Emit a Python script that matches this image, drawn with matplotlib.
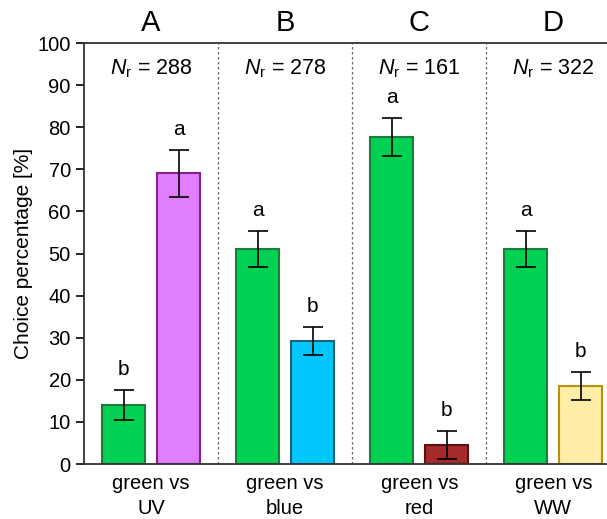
import numpy as np
import matplotlib
matplotlib.use("Agg")
import matplotlib.pyplot as plt

plt.rcParams['font.family'] = ['Liberation Sans', 'DejaVu Sans']
plt.rcParams['mathtext.fontset'] = 'custom'
plt.rcParams['mathtext.rm'] = 'Liberation Sans'
plt.rcParams['mathtext.it'] = 'Liberation Sans:italic'

panels = ['A', 'B', 'C', 'D']
groups = ['green vs\nUV', 'green vs\nblue', 'green vs\nred', 'green vs\nWW']
n_r = [288, 278, 161, 322]
green_vals = [14.0, 51.0, 77.7, 51.0]
green_err = [3.5, 4.3, 4.6, 4.3]
other_vals = [69.1, 29.3, 4.6, 18.6]
other_err = [5.6, 3.3, 3.3, 3.3]
green_sig = ['b', 'a', 'a', 'a']
other_sig = ['a', 'b', 'b', 'b']

green_face, green_edge = '#00D152', '#1F7A40'
other_face = ['#E07EFF', '#00C8FF', '#A52A2A', '#FFEDA8']
other_edge = ['#8A1E8A', '#1F5F78', '#5C1010', '#B8920A']

fig = plt.figure(figsize=(6.07, 5.19), dpi=100)
ax = fig.add_axes([84/607, 55/519, 1 - 84/607, 421/519])

x = np.arange(len(groups))
w = 0.32
off = 0.205
ax.bar(x - off, green_vals, w, color=green_face, edgecolor=green_edge, linewidth=1.5, zorder=2)
ax.bar(x + off, other_vals, w, color=other_face, edgecolor=other_edge, linewidth=1.5, zorder=2)
ax.errorbar(x - off, green_vals, yerr=green_err, fmt='none', ecolor='black', elinewidth=1.2, capsize=7, capthick=1.2, zorder=3)
ax.errorbar(x + off, other_vals, yerr=other_err, fmt='none', ecolor='black', elinewidth=1.2, capsize=7, capthick=1.2, zorder=3)

for i in range(len(groups)):
    ax.text(x[i] - off, green_vals[i] + green_err[i] + 2.6, green_sig[i], ha='center', va='bottom', fontsize=15)
    ax.text(x[i] + off, other_vals[i] + other_err[i] + 2.6, other_sig[i], ha='center', va='bottom', fontsize=15)
    ax.text(x[i], 93.8, r'$N_{\mathrm{r}}$' + ' = %d' % n_r[i], ha='center', va='center', fontsize=15.5)
    ax.text(x[i], 101.5, panels[i], ha='center', va='bottom', fontsize=21)

for d in x[:-1] + 0.5:
    ax.axvline(d, color='#666666', linestyle=(0, (2, 2)), linewidth=0.9, zorder=1)

ax.set_xlim(-0.5, 3.4)
ax.set_ylim(0, 100)
ax.set_yticks(np.arange(0, 101, 10))
ax.set_xticks(x)
ax.set_xticklabels(groups, fontsize=14.5, linespacing=1.4)
ax.tick_params(axis='x', length=0, pad=7)
ax.tick_params(axis='y', labelsize=14.5, length=6, width=1.2, direction='out')
ax.spines['right'].set_visible(False)
for s in ['left', 'top', 'bottom']:
    ax.spines[s].set_linewidth(1.3)
    ax.spines[s].set_color('#333333')
ax.set_ylabel('Choice percentage [%]', fontsize=15, labelpad=3)

fig.savefig('out.png', dpi=100)
